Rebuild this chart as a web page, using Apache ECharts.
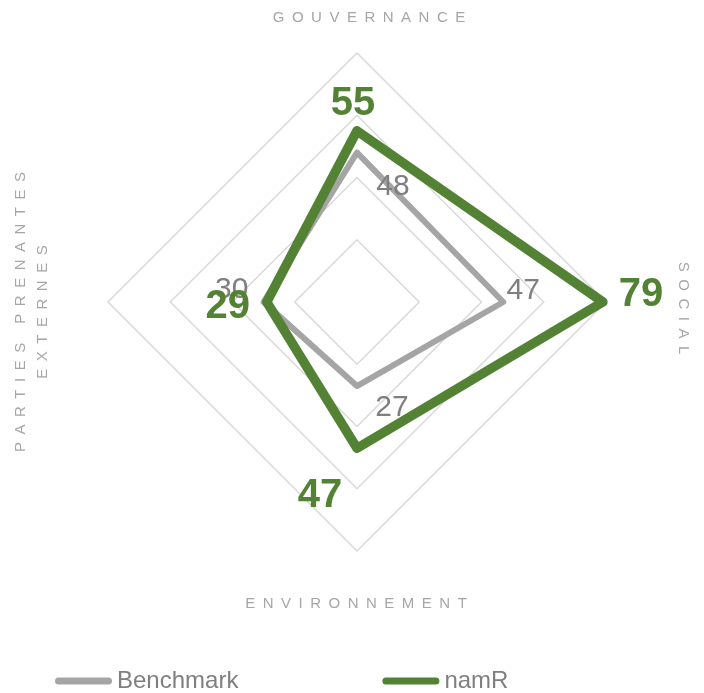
<!DOCTYPE html>
<html>
<head>
<meta charset="utf-8">
<script src="https://cdn.jsdelivr.net/npm/echarts@6/dist/echarts.min.js"></script>
<style>
  html, body { margin: 0; padding: 0; background: #fff; }
  #chart { width: 704px; height: 693px; }
</style>
</head>
<body>
<div id="chart"></div>
<script>
// axes, clockwise from the top
var axes = ['GOUVERNANCE', 'SOCIAL', 'ENVIRONNEMENT', 'PARTIES PRENANTES EXTERNES'];
var benchmark = [48, 47, 27, 30];
var namr = [55, 79, 47, 29];
var maxValue = 80;

var CX = 357, CY = 302, R = 249;
var GREEN = '#548235', GREY = '#a5a5a5';

// radar lays indicators out counter-clockwise, so reverse after the first one
var radarOrder = [0, 3, 2, 1];
function toRadar(arr) {
  return radarOrder.map(function (i) { return arr[i]; });
}

// spaced capitals like the original
function spaced(s) {
  return s.split('').join('\u2002');
}

// label offsets for each axis (top, right, bottom, left)
var benchOffsets = [[36, 34], [20, -11], [35, 22], [-32, -12]];
var namrOffsets = [[-4, -27], [38, -7], [-37, 48], [-39, 5]];

function labelPoints(values, offsets, style) {
  return values.map(function (v, i) {
    return {
      value: [v, axes[i]],
      label: Object.assign({
        show: true,
        position: 'inside',
        offset: offsets[i],
        formatter: String(v)
      }, style)
    };
  });
}

var chart = echarts.init(document.getElementById('chart'));
chart.setOption({
  animation: false,
  legend: {
    data: ['Benchmark', 'namR'],
    left: 55,
    top: 669,
    padding: 0,
    itemWidth: 57,
    itemHeight: 7,
    itemGap: 144,
    icon: 'path://M3.5,0H53.5A3.5,3.5,0,0,1,53.5,7H3.5A3.5,3.5,0,0,1,3.5,0Z',
    textStyle: { color: '#7f7f7f', fontSize: 24, fontFamily: 'Liberation Sans, Arial', lineHeight: 24 },
    selectedMode: false
  },
  radar: {
    center: [CX, CY],
    radius: R,
    startAngle: 90,
    shape: 'polygon',
    splitNumber: 4,
    indicator: toRadar(axes).map(function (n) { return { name: n, min: 0, max: maxValue }; }),
    axisName: { show: false },
    axisLine: { show: false },
    splitArea: { show: false },
    splitLine: { lineStyle: { color: '#d9d9d9', width: 1.5 } }
  },
  polar: { center: [CX, CY], radius: R },
  angleAxis: { type: 'category', data: axes, boundaryGap: false, startAngle: 90, show: false },
  radiusAxis: { min: 0, max: maxValue, show: false },
  series: [
    {
      type: 'radar',
      symbol: 'none',
      silent: true,
      data: [
        {
          name: 'Benchmark',
          value: toRadar(benchmark),
          itemStyle: { color: GREY },
          lineStyle: { color: GREY, width: 6, join: 'round', cap: 'round' }
        },
        {
          name: 'namR',
          value: toRadar(namr),
          itemStyle: { color: GREEN },
          lineStyle: { color: GREEN, width: 9.5, join: 'round', cap: 'round' }
        }
      ]
    },
    {
      type: 'scatter',
      coordinateSystem: 'polar',
      symbolSize: 1,
      silent: true,
      itemStyle: { color: 'rgba(0,0,0,0)', opacity: 1 },
      data: labelPoints(benchmark, benchOffsets, {
        color: '#7f7f7f', fontSize: 30, fontFamily: 'Liberation Sans, Arial'
      })
    },
    {
      type: 'scatter',
      coordinateSystem: 'polar',
      symbolSize: 1,
      silent: true,
      itemStyle: { color: 'rgba(0,0,0,0)', opacity: 1 },
      data: labelPoints(namr, namrOffsets, {
        color: GREEN, fontSize: 40, fontWeight: 'bold', fontFamily: 'Liberation Sans, Arial'
      })
    }
  ],
  graphic: [
    { type: 'text', x: 369, y: 18, silent: true,
      style: { text: spaced(axes[0]), font: '15px Liberation Sans', fill: '#a6a6a6', align: 'center', verticalAlign: 'middle' } },
    { type: 'text', x: 683, y: 308, rotation: -Math.PI / 2, silent: true,
      style: { text: spaced(axes[1]), font: '15px Liberation Sans', fill: '#a6a6a6', align: 'center', verticalAlign: 'middle' } },
    { type: 'text', x: 356, y: 604, silent: true,
      style: { text: spaced(axes[2]), font: '15px Liberation Sans', fill: '#a6a6a6', align: 'center', verticalAlign: 'middle' } },
    { type: 'text', x: 32, y: 312, rotation: Math.PI / 2, silent: true,
      style: { text: spaced('PARTIES PRENANTES') + '\n' + spaced('EXTERNES'), font: '15px Liberation Sans', lineHeight: 22,
        fill: '#a6a6a6', align: 'center', verticalAlign: 'middle' } }
  ]
});
</script>
</body>
</html>
